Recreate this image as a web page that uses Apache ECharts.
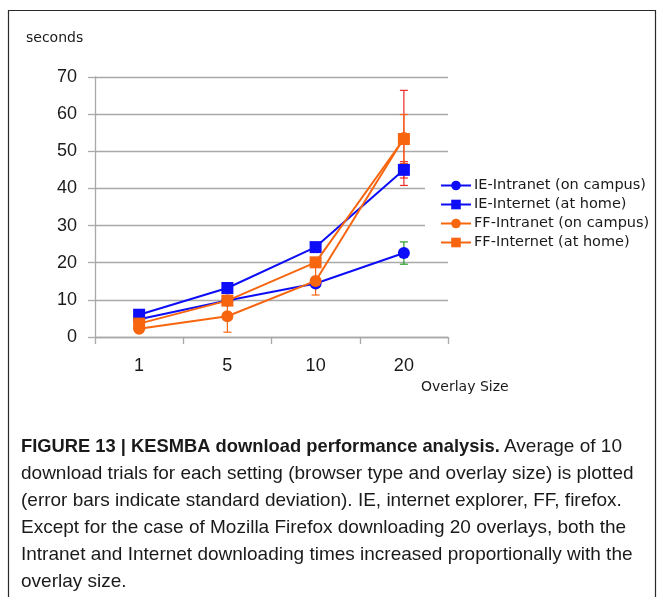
<!DOCTYPE html>
<html>
<head>
<meta charset="utf-8">
<title>KESMBA download performance</title>
<script src="https://cdn.jsdelivr.net/npm/echarts@6/dist/echarts.min.js"></script>
<style>
  html, body { margin: 0; padding: 0; background: #fff; }
  #chart { width: 658px; height: 597px; }
</style>
</head>
<body>
<div id="chart"></div>
<script>
// Overlay sizes on the x axis
const overlaySizes = ['1', '5', '10', '20'];

// Mean download time (seconds) for each setting
const ieIntranet = [4.8, 9.8, 14.4, 22.6];
const ieInternet = [6.0, 13.2, 24.2, 45.0];
const ffIntranet = [2.2, 5.6, 15.1, 53.6];
const ffInternet = [3.6, 9.8, 20.1, 53.3];

// Standard deviation (0 = no error bar drawn)
const ieIntranetSd = [0, 0, 0, 3.0];
const ieInternetSd = [0, 0, 0, 2.2];
const ffIntranetSd = [0, 4.3, 3.8, 12.8];
const ffInternetSd = [0, 0, 0, 6.6];

const seriesNames = [
  'IE-Intranet (on campus)',
  'IE-Internet (at home)',
  'FF-Intranet (on campus)',
  'FF-Internet (at home)'
];

const yTicks = { min: 0, max: 70, step: 10 };

// Styling
const BLUE = '#0d0df7';
const ORANGE = '#f7660f';
const RED = '#ee2a2a';
const GREEN = '#2a9d2a';
const GRID = '#a9a9a9';
const TEXT = '#1a1a1a';
const SANS = '"Liberation Sans", Arial, sans-serif';
const WIDE = '"DejaVu Sans", "Liberation Sans", sans-serif';

const seriesDefs = [
  { name: seriesNames[0], values: ieIntranet, sd: ieIntranetSd, color: BLUE, symbol: 'circle', size: 12, errColor: [GREEN, GREEN, GREEN, GREEN] },
  { name: seriesNames[1], values: ieInternet, sd: ieInternetSd, color: BLUE, symbol: 'rect', size: 12, errColor: [RED, RED, RED, RED] },
  { name: seriesNames[2], values: ffIntranet, sd: ffIntranetSd, color: ORANGE, symbol: 'circle', size: 12, errColor: [ORANGE, ORANGE, ORANGE, RED] },
  { name: seriesNames[3], values: ffInternet, sd: ffInternetSd, color: ORANGE, symbol: 'rect', size: 12, errColor: [ORANGE, ORANGE, ORANGE, ORANGE] }
];

// Error bars: vertical whisker with caps, drawn under the markers
const errorData = [];
seriesDefs.forEach(function (s) {
  s.values.forEach(function (v, i) {
    if (s.sd[i] > 0) {
      errorData.push({ value: [i, v, s.sd[i]], itemStyle: { color: s.errColor[i] } });
    }
  });
});

function renderErrorBar(params, api) {
  const idx = api.value(0);
  const mid = api.value(1);
  const sd = api.value(2);
  const top = api.coord([idx, mid + sd]);
  const bottom = api.coord([idx, mid - sd]);
  const half = 4;
  const style = { stroke: api.visual('color'), lineWidth: 1.2 };
  return {
    type: 'group',
    children: [
      { type: 'line', shape: { x1: top[0], y1: top[1], x2: bottom[0], y2: bottom[1] }, style: style },
      { type: 'line', shape: { x1: top[0] - half, y1: top[1], x2: top[0] + half, y2: top[1] }, style: style },
      { type: 'line', shape: { x1: bottom[0] - half, y1: bottom[1], x2: bottom[0] + half, y2: bottom[1] }, style: style }
    ]
  };
}

const lineSeries = seriesDefs.map(function (s, k) {
  return {
    type: 'line',
    name: s.name,
    data: s.values,
    symbol: s.symbol,
    symbolSize: s.size,
    showAllSymbol: true,
    color: s.color,
    lineStyle: { width: 2, color: s.color },
    itemStyle: { color: s.color },
    z: 3 + k,
    animation: false
  };
});

// Figure caption
const captionFont = '"Liberation Sans Narrow", "Arial Narrow", "Liberation Sans", sans-serif';
const captionTitle = 'FIGURE 13 | KESMBA download performance analysis.';
const captionLines = [
  'Average of 10',
  'download trials for each setting (browser type and overlay size) is plotted',
  '(error bars indicate standard deviation). IE, internet explorer, FF, firefox.',
  'Except for the case of Mozilla Firefox downloading 20 overlays, both the',
  'Intranet and Internet downloading times increased proportionally with the',
  'overlay size.'
];
const CAP_TOP = 437;
const CAP_STEP = 27.1;
const CAP_SIZE = 19;

const captionGraphics = [
  {
    type: 'text',
    x: 21,
    y: CAP_TOP,
    scaleX: 0.965,
    style: { text: captionTitle, fontFamily: captionFont, fontSize: CAP_SIZE, fontWeight: 'bold', fill: TEXT }
  }
].concat(captionLines.map(function (line, i) {
  return {
    type: 'text',
    x: i === 0 ? 504 : 21,
    y: CAP_TOP + i * CAP_STEP,
    style: { text: line, fontFamily: captionFont, fontSize: CAP_SIZE, fill: TEXT }
  };
}));

const chart = echarts.init(document.getElementById('chart'), null, { renderer: 'canvas' });

chart.setOption({
  animation: false,
  backgroundColor: '#ffffff',
  grid: { left: 95, top: 77, width: 353, height: 260, containLabel: false },
  xAxis: {
    type: 'category',
    data: overlaySizes,
    boundaryGap: true,
    axisLine: { lineStyle: { color: GRID, width: 1.3 } },
    axisTick: { show: true, length: 7, lineStyle: { color: GRID, width: 1.3 } },
    axisLabel: { color: TEXT, fontSize: 18, fontFamily: SANS, margin: 20 },
    splitLine: { show: false }
  },
  yAxis: {
    type: 'value',
    min: yTicks.min,
    max: yTicks.max,
    interval: yTicks.step,
    axisLine: { show: true, lineStyle: { color: GRID, width: 1.3 } },
    axisTick: { show: true, length: 7, lineStyle: { color: GRID, width: 1.3 } },
    axisLabel: { color: TEXT, fontSize: 18, fontFamily: SANS, margin: 18 },
    splitLine: { show: true, lineStyle: { color: GRID, width: 1.3 } }
  },
  legend: {
    orient: 'vertical',
    left: 425,
    top: 176,
    padding: [2, 4, 2, 15],
    backgroundColor: '#ffffff',
    itemWidth: 30,
    itemHeight: 12,
    itemGap: 4,
    data: seriesNames,
    textStyle: { color: TEXT, fontSize: 14.5, fontFamily: WIDE, lineHeight: 14, padding: [0, 0, 0, -2] },
    z: 20
  },
  series: [
    {
      type: 'custom',
      name: 'sd',
      renderItem: renderErrorBar,
      data: errorData,
      encode: { x: 0, y: 1 },
      z: 2,
      silent: true,
      animation: false
    }
  ].concat(lineSeries),
  graphic: [
    {
      type: 'rect',
      shape: { x: 8.5, y: 10.5, width: 647, height: 620 },
      style: { fill: 'none', stroke: '#2a2a2a', lineWidth: 1.2 },
      z: -1,
      silent: true
    },
    {
      type: 'text',
      x: 26,
      y: 31,
      style: { text: 'seconds', fontSize: 14, fontFamily: WIDE, fill: TEXT }
    },
    {
      type: 'text',
      x: 421,
      y: 380,
      style: { text: 'Overlay Size', fontSize: 14, fontFamily: WIDE, fill: TEXT }
    }
  ].concat(captionGraphics)
});
</script>
</body>
</html>
